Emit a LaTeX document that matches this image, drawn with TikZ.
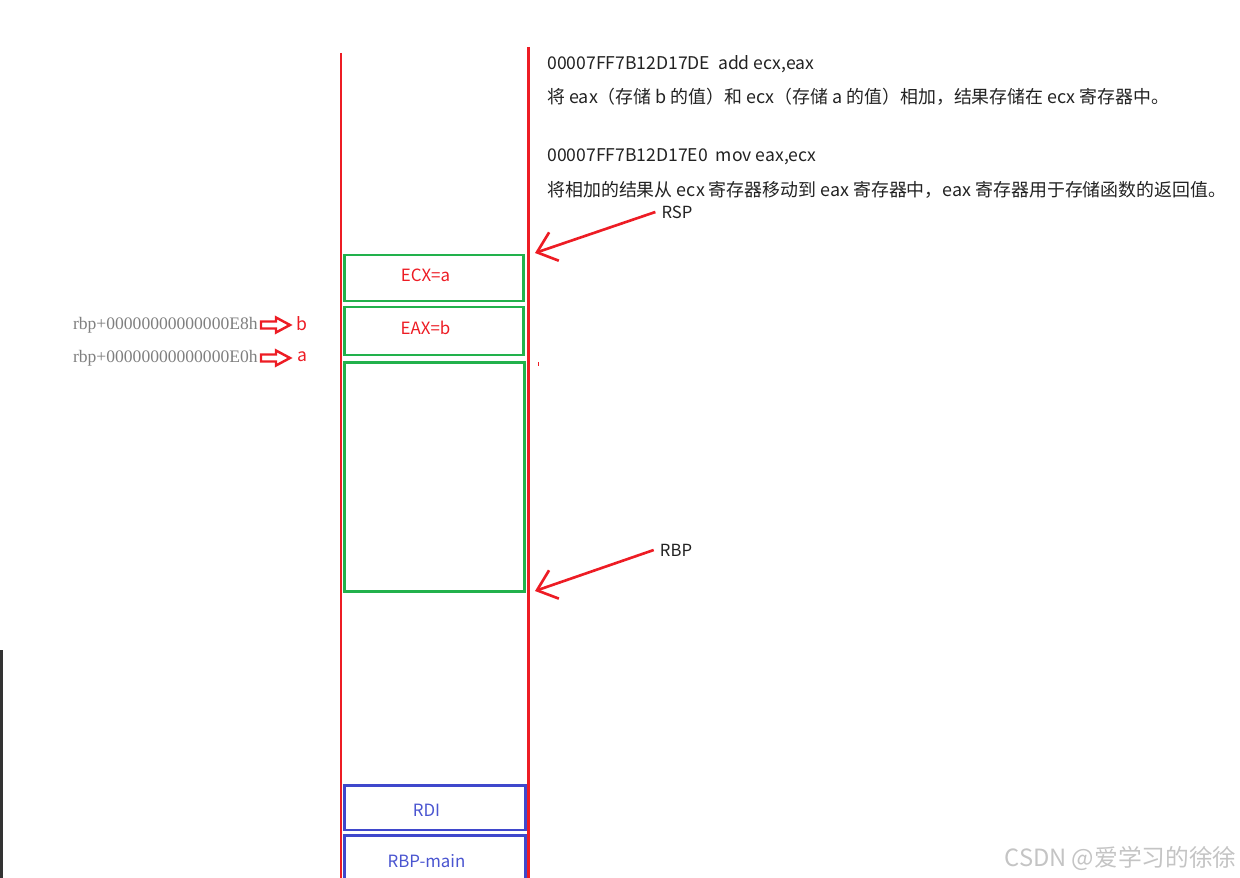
\documentclass[tikz,border=0pt]{standalone}
\usepackage{fontspec}
\setmainfont{Noto Sans CJK SC}
\newfontfamily\addrFont{Liberation Serif}
\usetikzlibrary{arrows.meta, calc}

\begin{document}
\begin{tikzpicture}[x=0.02cm, y=-0.02cm,
    stackLine/.style={draw=stackRed, line width=1.7pt},
    greenBox/.style={draw=boxGreen, line width=1.7pt, minimum width=3.6cm},
    blueBox/.style={draw=boxBlue, line width=1.7pt, minimum width=3.62cm},
    slotText/.style={text=#1, font=\fontsize{9.6}{11}\selectfont, xshift=-0.17cm},
    pointer/.style={draw=stackRed, line width=1.5pt, -{Straight Barb[length=0.36cm, width=0.6cm, line width=1.5pt]}},
    codeText/.style={anchor=west, inner sep=0pt, text=textDark, font=\fontsize{10}{12}\selectfont},
    noteText/.style={anchor=west, inner sep=0pt, text=textDark, font=\fontsize{10.2}{12}\selectfont},
    labelText/.style={text=textDark, font=\fontsize{9.5}{11}\selectfont},
    addrText/.style={anchor=east, inner sep=0pt, text=addrGrey, font=\addrFont\fontsize{10}{12}\selectfont},
    varText/.style={text=stackRed, font=\fontsize{10}{12}\selectfont},
    hollowArrow/.style={draw=stackRed, line width=1.4pt, line join=miter}
]
    % Define colours
    \definecolor{stackRed}{HTML}{ED1C24}
    \definecolor{boxGreen}{HTML}{22B14C}
    \definecolor{boxBlue}{HTML}{3F48CC}
    \definecolor{boxBlueText}{HTML}{4A55D0}
    \definecolor{textDark}{HTML}{222222}
    \definecolor{addrGrey}{HTML}{7F7F7F}
    \definecolor{barGrey}{HTML}{333333}
    \definecolor{markGrey}{HTML}{C4C4C4}

    % Fix the page size
    \useasboundingbox (0,0) rectangle (1240,878);

    % Draw the stack walls
    \draw[stackLine] (341,53) -- (341,878);
    \draw[stackLine] (528,47) -- (528,878);
    \draw[stackRed, line width=0.5pt] (538,362) -- (538,366);

    % Draw the stack slots
    \node[greenBox, minimum height=0.92cm, label={[slotText=stackRed, yshift=0.06cm]center:ECX=a}] (ecxSlot) at (434,278) {};
    \node[greenBox, minimum height=0.96cm, label={[slotText=stackRed, yshift=0.06cm]center:EAX=b}] (eaxSlot) at (434,331) {};
    \node[greenBox, minimum width=3.62cm, minimum height=4.6cm] (frameSlot) at (434.5,477) {};
    \node[blueBox, minimum height=0.9cm, label={[slotText=boxBlueText, yshift=-0.05cm]center:RDI}] (rdiSlot) at (435,807.5) {};
    \node[blueBox, minimum height=1.0cm, label={[slotText=boxBlueText, yshift=-0.02cm]center:RBP-main}] (rbpMainSlot) at (435,860) {};

    % Label the variable addresses
    \foreach \yy/\off/\var in {325/E8/b, 358/E0/a} {
        \node[addrText] (addr\var) at (258,\yy) {rbp+00000000000000\off h};
        \draw[hollowArrow, shift={(261,\yy)}] (0,-3.5) -- (15,-3.5) -- (15,-7.5) -- (29,0) -- (15,7.5) -- (15,3.5) -- (0,3.5) -- cycle;
        \node[varText] (var\var) at (302,\yy-1) {\var};
    }

    % Draw the stack pointers
    \node[labelText] (rspLabel) at (677,212) {RSP};
    \coordinate (rspTip) at (535,253);
    \draw[pointer] (rspLabel.west) -- (rspTip);

    \node[labelText] (rbpLabel) at (676,550) {RBP};
    \coordinate (rbpTip) at (535,591);
    \draw[pointer] (rbpLabel.west) -- (rbpTip);

    % Instruction notes
    \node[codeText] (addLine) at (547,64) {00007FF7B12D17DE\ \ add ecx,eax};
    \node[noteText] (addNote) at (547,97) {将 eax（存储 b 的值）和 ecx（存储 a 的值）相加，结果存储在 ecx 寄存器中。};
    \node[codeText] (movLine) at (547,157) {00007FF7B12D17E0\ \ mov eax,ecx};
    \node[noteText] (movNote) at (547,190) {将相加的结果从 ecx 寄存器移动到 eax 寄存器中，eax 寄存器用于存储函数的返回值。};

    % Left edge bar and watermark
    \draw[barGrey, line width=2.5pt] (1,650) -- (1,878);
    \node[anchor=east, inner sep=0pt, text=markGrey, font=\fontsize{13.5}{15}\selectfont] (watermark) at (1237,858) {CSDN @爱学习的徐徐};
\end{tikzpicture}
\end{document}
